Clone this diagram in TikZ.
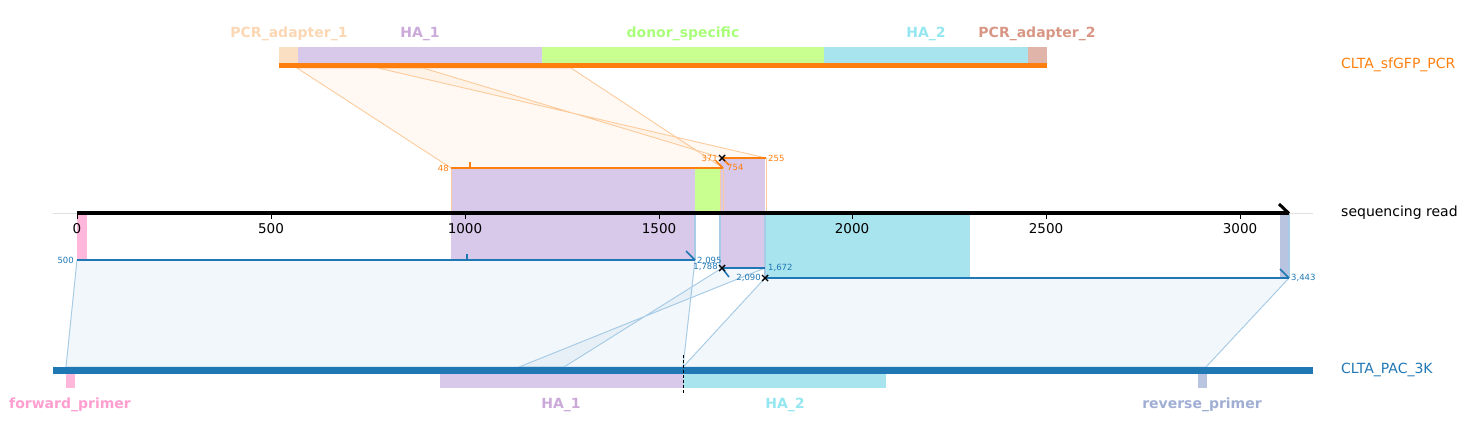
\documentclass[tikz,border=0pt]{standalone}
\usepackage{fontspec}
\setmainfont{DejaVu Sans}
\usepackage{xcolor}
\definecolor{pcrorange}{HTML}{FF7F0E}
\definecolor{pacblue}{HTML}{1F77B4}
\definecolor{adapterone}{HTML}{FBDFC3}
\definecolor{adaptertwo}{HTML}{E0B4A8}
\definecolor{hamone}{HTML}{D8C8EA}
\definecolor{hamtwo}{HTML}{A8E4EE}
\definecolor{donor}{HTML}{C8FF90}
\definecolor{fwdprimer}{HTML}{FFB8DC}
\definecolor{revprimer}{HTML}{B8C4E0}
\definecolor{edgeorange}{HTML}{FCCB9C}
\definecolor{edgeblue}{HTML}{A9CCE6}

\begin{document}
\begin{tikzpicture}[x=1pt,y=-1pt]

        % 1. Frame and styles
        \useasboundingbox (0,0) rectangle (1467,437);
        \tikzset{featlabel/.style={font=\bfseries\fontsize{14}{16}\selectfont, inner sep=0pt},
                 ticklabel/.style={font=\fontsize{13.5}{15}\selectfont, inner sep=0pt, anchor=north},
                 numlabel/.style={font=\fontsize{8.5}{9}\selectfont, inner sep=0pt},
                 reclabel/.style={font=\fontsize{14}{16}\selectfont, inner sep=0pt, anchor=west},
                 xmark/.style={black, line width=1.4pt}}

        % 2. Alignment end points
        \coordinate (OneS) at (451,168);   % 48
        \coordinate (OneE) at (723,168);   % 754
        \coordinate (TwoS) at (722,158);   % 371
        \coordinate (TwoE) at (766,158);   % 255
        \coordinate (BlueOneS) at (77,260);    % 500
        \coordinate (BlueOneE) at (695,260);   % 2,095
        \coordinate (BlueTwoS) at (722,268);   % 1,788
        \coordinate (BlueTwoE) at (765,268);   % 1,672
        \coordinate (BlueThreeS) at (765,278); % 2,090
        \coordinate (BlueThreeE) at (1289,278);% 3,443

        % matching points on the two records
        \coordinate (TopA) at (297,68);
        \coordinate (TopB) at (571,68);
        \coordinate (TopC) at (423,68);
        \coordinate (TopD) at (378,68);
        \coordinate (BotA) at (66,367);
        \coordinate (BotB) at (683,367);
        \coordinate (BotC) at (564,367);
        \coordinate (BotD) at (519,367);
        \coordinate (BotE) at (1206,367);

        % 3. Shaded links between records and read
        \filldraw[fill=pcrorange, fill opacity=0.05, draw=edgeorange, line width=0.9pt] (TopA) -- (TopB) -- (OneE) -- (OneS) -- cycle;
        \filldraw[fill=pcrorange, fill opacity=0.05, draw=edgeorange, line width=0.9pt] (TopC) -- (TopD) -- (TwoE) -- (TwoS) -- cycle;
        \filldraw[fill=pacblue, fill opacity=0.06, draw=edgeblue, line width=1pt] (BlueOneS) -- (BlueOneE) -- (BotB) -- (BotA) -- cycle;
        \filldraw[fill=pacblue, fill opacity=0.06, draw=edgeblue, line width=1pt] (BlueTwoS) -- (BlueTwoE) -- (BotD) -- (BotC) -- cycle;
        \filldraw[fill=pacblue, fill opacity=0.06, draw=edgeblue, line width=1pt] (BlueThreeS) -- (BlueThreeE) -- (BotE) -- (BotB) -- cycle;

        % 4. Features projected on the read
        \fill[hamone] (451,168) rectangle (695,260);
        \fill[donor] (695,168) rectangle (720,213);
        \fill[hamone] (720,158) rectangle (765,268);
        \fill[hamtwo] (765,213) rectangle (970,278);
        \fill[fwdprimer] (77,213) rectangle (87,260);
        \fill[revprimer] (1280,213) rectangle (1289,278);
        \draw[edgeorange, line width=0.8pt] (451,168) -- (451,213) (720,168) -- (720,213) (723,168) -- (723,213) (766,158) -- (766,213);
        \draw[edgeblue, line width=1.2pt] (695,213) -- (695,260) (720,213) -- (720,268) (765,213) -- (765,278) (1289,213) -- (1289,278);

        % 5. Top record CLTA_sfGFP_PCR
        \fill[adapterone] (279,47) rectangle (298,63);
        \fill[hamone] (298,47) rectangle (542,63);
        \fill[donor] (542,47) rectangle (824,63);
        \fill[hamtwo] (824,47) rectangle (1028,63);
        \fill[adaptertwo] (1028,47) rectangle (1047,63);
        \draw[pcrorange, line width=5.5pt] (279,65.5) -- (1047,65.5);
        \node[featlabel, text=adapterone!92!orange] (lblAdOne) at (289,34) {PCR\_adapter\_1};
        \node[featlabel, text=hamone!85!violet] (lblHaOneTop) at (420,34) {HA\_1};
        \node[featlabel, text=donor!85!green] (lblDonor) at (683,34) {donor\_specific};
        \node[featlabel, text=hamtwo!88!cyan] (lblHaTwoTop) at (926,34) {HA\_2};
        \node[featlabel, text={rgb,255:red,216;green,150;blue,132}] (lblAdTwo) at (1037,34) {PCR\_adapter\_2};
        \node[reclabel, text=pcrorange] (lblPCR) at (1341,65) {CLTA\_sfGFP\_PCR};

        % 6. Sequencing read axis
        \draw[black!12, line width=0.6pt] (53,213) -- (1313,213);
        \draw[black, line width=4pt] (77,213) -- (1289,213);
        \draw[black, line width=3pt] (1279,204) -- (1289,213.5);
        \foreach \val/\px in {0/77, 500/271, 1000/465, 1500/659, 2000/852, 2500/1046, 3000/1240} {
            \draw[black, line width=0.8pt] (\px,215) -- (\px,219);
            \node[ticklabel] (tick\val) at (\px,223) {\val};
        }
        \node[reclabel] (lblRead) at (1341,213) {sequencing read};

        % 7. Alignment segments of CLTA_sfGFP_PCR
        \draw[pcrorange, line width=2pt] (OneS) -- (OneE);
        \draw[pcrorange, line width=1.6pt] (470,168) -- (470,162);
        \draw[pcrorange, line width=1.6pt] (716,161) -- (OneE);
        \draw[pcrorange, line width=2pt] (TwoS) -- (TwoE);
        \draw[pcrorange, line width=1.6pt] (TwoS) -- (729,165);
        \node[numlabel, text=pcrorange, anchor=east] (n48) at ([xshift=-2pt]OneS) {48};
        \node[numlabel, text=pcrorange, anchor=east] (n371) at ([xshift=-4pt]TwoS) {371};
        \node[numlabel, text=pcrorange, anchor=west] (n754) at ([xshift=4pt,yshift=1pt]OneE) {754};
        \node[numlabel, text=pcrorange, anchor=west] (n255) at ([xshift=2pt]TwoE) {255};

        % 8. Alignment segments of CLTA_PAC_3K
        \draw[pacblue, line width=2pt] (BlueOneS) -- (BlueOneE);
        \draw[pacblue, line width=1.6pt] (467,260) -- (467,254);
        \draw[pacblue, line width=1.6pt] (686,251) -- (BlueOneE);
        \draw[pacblue, line width=2pt] (BlueTwoS) -- (BlueTwoE);
        \draw[pacblue, line width=1.6pt] (BlueTwoS) -- (729,277);
        \draw[pacblue, line width=2pt] (BlueThreeS) -- (BlueThreeE);
        \draw[pacblue, line width=1.6pt] (1280,269) -- (BlueThreeE);
        \node[numlabel, text=pacblue, anchor=east] (n500) at ([xshift=-3pt]BlueOneS) {500};
        \node[numlabel, text=pacblue, anchor=west] (n2095) at ([xshift=2pt,yshift=-1pt]BlueOneE) {2,095};
        \node[numlabel, text=pacblue, anchor=east] (n1788) at ([xshift=-4pt,yshift=1pt]BlueTwoS) {1,788};
        \node[numlabel, text=pacblue, anchor=west] (n1672) at ([xshift=3pt]BlueTwoE) {1,672};
        \node[numlabel, text=pacblue, anchor=east] (n2090) at ([xshift=-4pt]BlueThreeS) {2,090};
        \node[numlabel, text=pacblue, anchor=west] (n3443) at ([xshift=2pt]BlueThreeE) {3,443};

        % 9. Cut marks
        \foreach \pt in {TwoS, BlueTwoS, BlueThreeS} {
            \draw[xmark] ([xshift=-3pt,yshift=-3pt]\pt) -- ([xshift=3pt,yshift=3pt]\pt);
            \draw[xmark] ([xshift=-3pt,yshift=3pt]\pt) -- ([xshift=3pt,yshift=-3pt]\pt);
        }

        % 10. Bottom record CLTA_PAC_3K
        \fill[fwdprimer] (66,373) rectangle (75,388);
        \fill[hamone] (440,373) rectangle (683,388);
        \fill[hamtwo] (683,373) rectangle (886,388);
        \fill[revprimer] (1198,373) rectangle (1207,388);
        \draw[pacblue, line width=7pt] (53,370) -- (1313,370);
        \draw[black, line width=0.9pt, dash pattern=on 3pt off 2pt] (683,355) -- (683,393);
        \node[featlabel, text={rgb,255:red,255;green,158;blue,207}] (lblFwd) at (70,405) {forward\_primer};
        \node[featlabel, text=hamone!85!violet] (lblHaOneBot) at (561,405) {HA\_1};
        \node[featlabel, text=hamtwo!88!cyan] (lblHaTwoBot) at (785,405) {HA\_2};
        \node[featlabel, text={rgb,255:red,160;green,174;blue,212}] (lblRev) at (1202,405) {reverse\_primer};
        \node[reclabel, text=pacblue] (lblPAC) at (1341,370) {CLTA\_PAC\_3K};

    \end{tikzpicture}
\end{document}
